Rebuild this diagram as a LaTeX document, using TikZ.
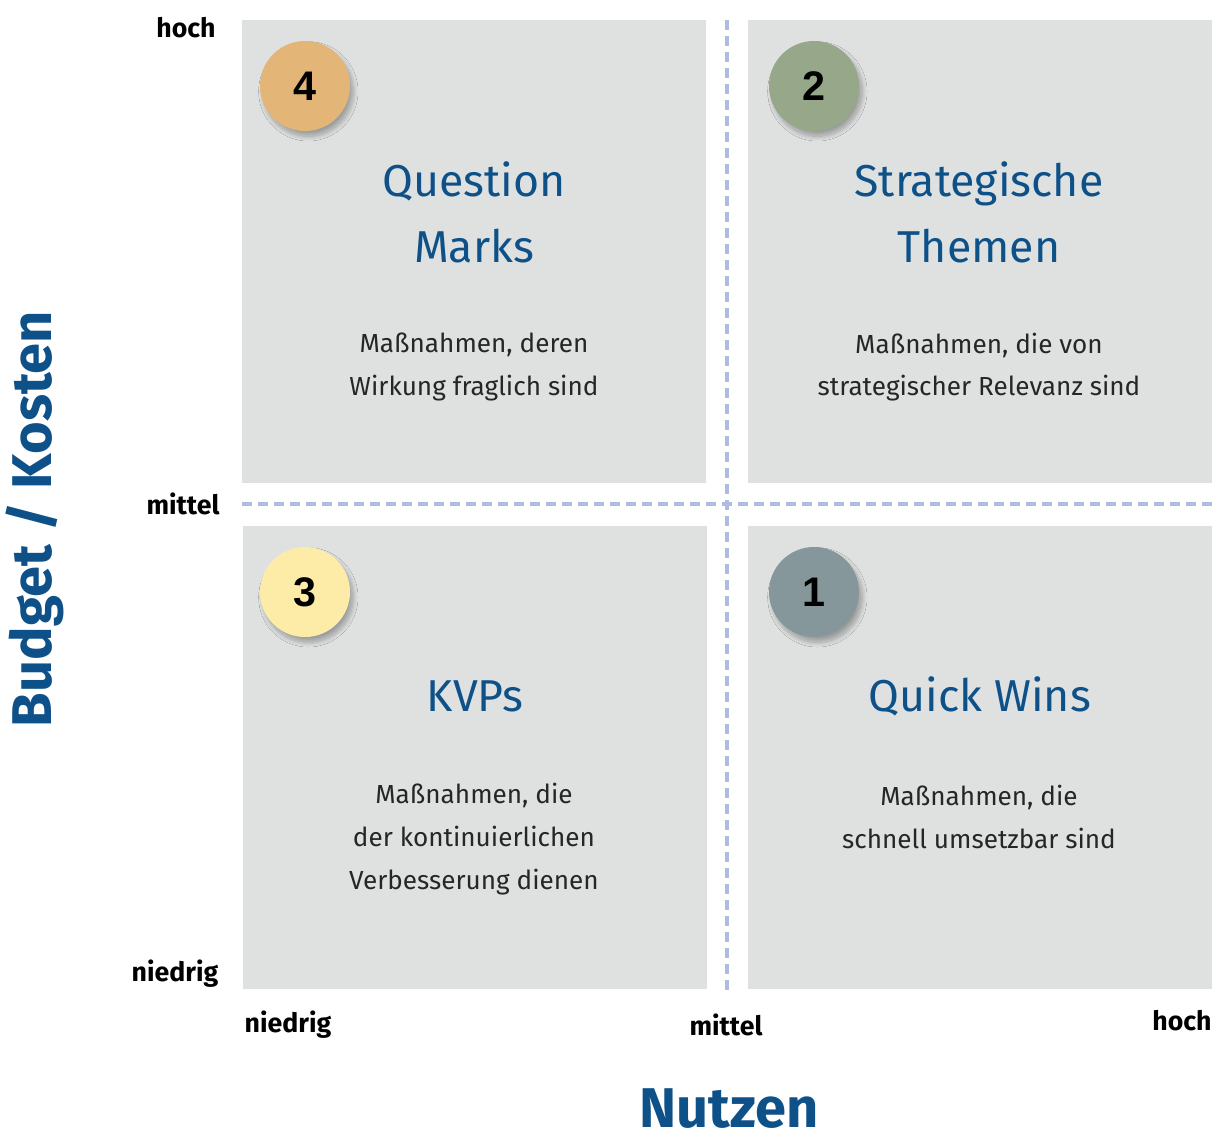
\documentclass[tikz,border=0pt]{standalone}
\usepackage{fontspec}
\setmainfont{Fira Sans}
\newfontfamily\digitfont{Liberation Sans}
\usetikzlibrary{shadows.blur}
\definecolor{boxgray}{HTML}{DEE1E0}
\definecolor{dashblue}{HTML}{AEBCE0}
\definecolor{titleblue}{HTML}{0E5189}
\definecolor{cfour}{HTML}{E3B576}
\definecolor{ctwo}{HTML}{97A88A}
\definecolor{cthree}{HTML}{FDECA8}
\definecolor{cone}{HTML}{85979A}
\begin{document}
\begin{tikzpicture}[x=0.75pt,y=-0.75pt,
  quad/.style={fill=boxgray,draw=none},
  grid/.style={draw=dashblue,line width=2.3pt,dash pattern=on 7.5pt off 4.5pt},
  badge/.style={circle,minimum size=67.5pt,inner sep=0pt,font=\digitfont\bfseries\fontsize{31}{31}\selectfont,
     blur shadow={shadow xshift=2.5pt,shadow yshift=-4pt,shadow blur steps=10,shadow blur radius=3.5pt,shadow opacity=30}},
  qtitle/.style={align=center,text=titleblue,font=\fontsize{33.5}{49.5}\selectfont},
  qbody/.style={align=center,text=black!85,font=\fontsize{19.6}{32}\selectfont},
  axlab/.style={font=\bfseries\fontsize{20}{20}\selectfont,text=black},
  axtitle/.style={inner sep=0pt,font=\bfseries\fontsize{42}{42}\selectfont,text=titleblue}]
\useasboundingbox (0,0) rectangle (1216,1134);
% quadrants
\fill[quad] (242,20) rectangle (706,483);
\fill[quad] (748,20) rectangle (1212,483);
\fill[quad] (243,526) rectangle (707,989);
\fill[quad] (748,526) rectangle (1212,989);
% grid lines
\coordinate (vtop) at (727,20);
\coordinate (vbot) at (727,992);
\coordinate (hl) at (242,504);
\coordinate (hr) at (1212,504);
\draw[grid] (vtop) -- (vbot);
\draw[grid] (hl) -- (hr);
% badges
\node[badge,fill=cfour] (b4) at (305,86) {4};
\node[badge,fill=ctwo] (b2) at (814,86) {2};
\node[badge,fill=cthree] (b3) at (305,592) {3};
\node[badge,fill=cone] (b1) at (814,592) {1};
% titles
\node[qtitle] (t4) at (474,212) {Question\\Marks};
\node[qtitle] (t2) at (979,212) {Strategische\\Themen};
\node[qtitle] (t3) at (475,696) {KVPs};
\node[qtitle] (t1) at (980,696) {Quick Wins};
% bodies
\node[qbody] (d4) at (474,367) {Maßnahmen, deren\\Wirkung fraglich sind};
\node[qbody] (d2) at (979,367) {Maßnahmen, die von\\strategischer Relevanz sind};
\node[qbody] (d3) at (474,839) {Maßnahmen, die\\der kontinuierlichen\\Verbesserung dienen};
\node[qbody] (d1) at (979,817) {Maßnahmen, die\\schnell umsetzbar sind};
% axis labels
\node[axlab] (yh) at (186,28) {hoch};
\node[axlab] (ym) at (183,504) {mittel};
\node[axlab] (yn) at (175,974) {niedrig};
\node[axlab] (xn) at (288,1025) {niedrig};
\node[axlab] (xm) at (726,1025) {mittel};
\node[axlab] (xh) at (1182,1021) {hoch};
\node[axtitle] (xt) at (729,1109) {Nutzen};
\node[axtitle,rotate=90] (yt) at (35,519) {Budget / Kosten};
\end{tikzpicture}
\end{document}
